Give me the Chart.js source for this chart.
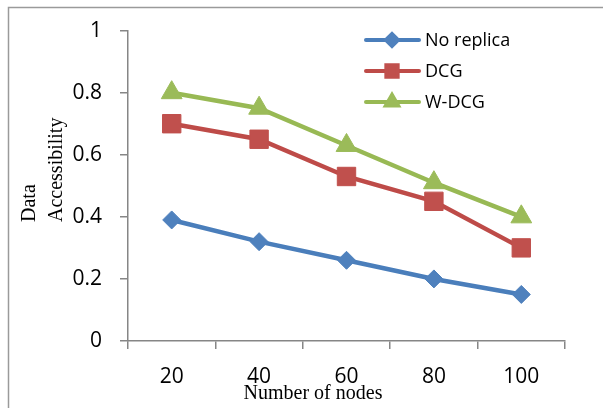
<!DOCTYPE html>
<html>
<head>
<meta charset="utf-8">
<script src="https://cdn.jsdelivr.net/npm/chart.js@4/dist/chart.umd.min.js"></script>
<style>
    html, body { margin: 0; padding: 0; background: #fff; }
    #wrap { width: 603px; height: 408px; }
</style>
</head>
<body>
<div id="wrap"><canvas id="accessChart" width="603" height="408"></canvas></div>
<script>
// chart data
const nodeCounts = ['20', '40', '60', '80', '100'];
const noReplica = [0.39, 0.32, 0.26, 0.20, 0.15];
const dcg = [0.70, 0.65, 0.53, 0.45, 0.30];
const wDcg = [0.80, 0.75, 0.63, 0.51, 0.40];
const yTicks = [0, 0.2, 0.4, 0.6, 0.8, 1];

const axisGray = '#868686';
const tickFont = { family: 'Open Sans', size: 21 };

// frame, axis titles and legend drawn on top of the chart
const decorPlugin = {
    id: 'decor',
    afterDraw(chart) {
        const ctx = chart.ctx;
        ctx.save();

        // outer frame (only left and top edges are inside the picture)
        ctx.strokeStyle = '#9a9a9a';
        ctx.lineWidth = 1.5;
        ctx.beginPath();
        ctx.moveTo(8.5, 408);
        ctx.lineTo(8.5, 7.5);
        ctx.lineTo(603, 7.5);
        ctx.stroke();

        // x title
        ctx.fillStyle = '#000';
        ctx.font = '20px "Liberation Serif"';
        ctx.textAlign = 'center';
        ctx.textBaseline = 'middle';
        ctx.fillText('Number of nodes', 313, 394);

        // y title, two lines reading upward
        ctx.save();
        ctx.translate(0, 222);
        ctx.rotate(-Math.PI / 2);
        ctx.textAlign = 'left';
        ctx.fillText('Data', 0, 30);
        ctx.fillText('Accessibility', 0, 57);
        ctx.restore();

        // legend
        ctx.font = '18px "Open Sans"';
        ctx.textAlign = 'left';
        chart.data.datasets.forEach((ds, i) => {
            const y = 40 + i * 31;
            ctx.strokeStyle = ds.borderColor;
            ctx.lineWidth = 4;
            ctx.lineCap = 'round';
            ctx.beginPath();
            ctx.moveTo(366, y);
            ctx.lineTo(419, y);
            ctx.stroke();
            ctx.fillStyle = ds.pointBackgroundColor;
            ctx.strokeStyle = ds.pointBackgroundColor;
            Chart.helpers.drawPoint(ctx, {
                pointStyle: ds.pointStyle,
                radius: ds.legendRadius,
                borderWidth: 1,
                rotation: 0
            }, 392, y);
            ctx.fillStyle = '#000';
            ctx.fillText(ds.label, 425, y + 1);
        });

        ctx.restore();
    }
};

const ctx = document.getElementById('accessChart').getContext('2d');
const accessChart = new Chart(ctx, {
    type: 'line',
    data: {
        labels: nodeCounts,
        datasets: [{
            label: 'No replica',
            data: noReplica,
            borderColor: '#4A7EBB',
            pointBackgroundColor: '#4F81BD',
            pointBorderColor: '#4F81BD',
            pointStyle: 'rectRot',
            pointRadius: 9,
            legendRadius: 6
        }, {
            label: 'DCG',
            data: dcg,
            borderColor: '#BE4B48',
            pointBackgroundColor: '#C0504D',
            pointBorderColor: '#C0504D',
            pointStyle: 'rect',
            pointRadius: 13,
            legendRadius: 8
        }, {
            label: 'W-DCG',
            data: wDcg,
            borderColor: '#98B954',
            pointBackgroundColor: '#9BBB59',
            pointBorderColor: '#9BBB59',
            pointStyle: 'triangle',
            pointRadius: 12,
            legendRadius: 7
        }]
    },
    options: {
        responsive: false,
        animation: false,
        devicePixelRatio: 1,
        layout: { padding: { top: 24, right: 38, left: 0, bottom: 0 } },
        elements: {
            line: { borderWidth: 4.5, tension: 0 },
            point: { borderWidth: 1, hoverRadius: 9 }
        },
        plugins: {
            legend: { display: false },
            tooltip: { enabled: false }
        },
        scales: {
            x: {
                type: 'category',
                offset: true,
                grid: {
                    offset: true,
                    drawOnChartArea: false,
                    color: axisGray,
                    tickLength: 8,
                    lineWidth: 1.5
                },
                border: { color: axisGray, width: 1.5 },
                ticks: { font: tickFont, color: '#000', padding: 15, maxRotation: 0 },
                afterFit(scale) { scale.height = 67; }
            },
            y: {
                min: 0,
                max: 1,
                afterBuildTicks(scale) {
                    scale.ticks = yTicks.map(v => ({ value: v }));
                },
                grid: {
                    drawOnChartArea: false,
                    color: axisGray,
                    tickLength: 8,
                    lineWidth: 1.5
                },
                border: { color: axisGray, width: 1.5 },
                ticks: {
                    font: tickFont,
                    color: '#000',
                    padding: 18,
                    callback: v => String(v)
                },
                afterFit(scale) { scale.width = 128; }
            }
        }
    },
    plugins: [decorPlugin]
});
</script>
</body>
</html>
